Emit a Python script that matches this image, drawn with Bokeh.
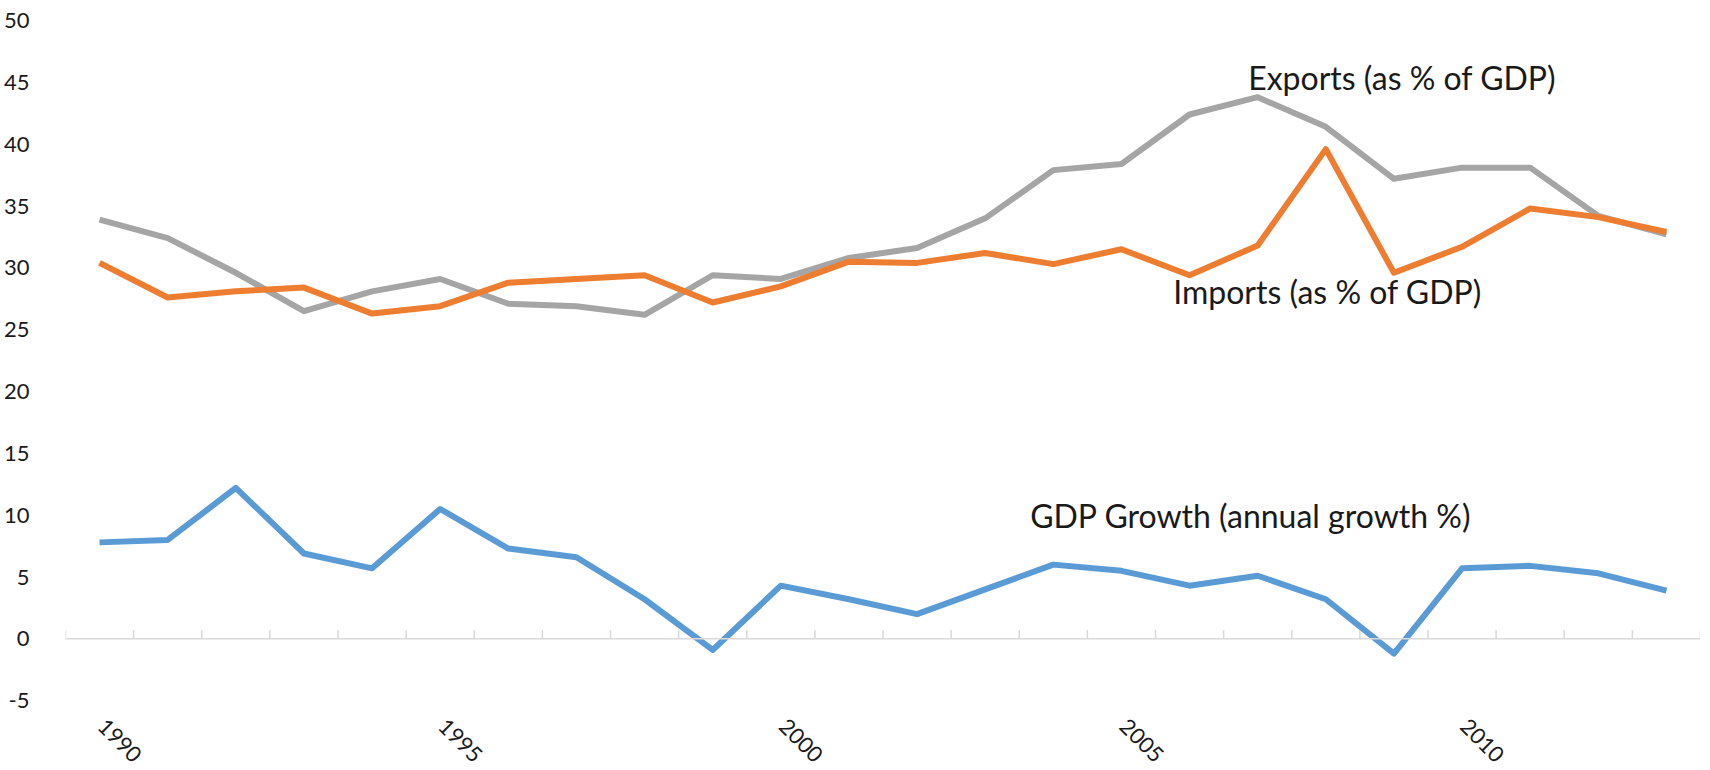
import math
from bokeh.plotting import figure
from bokeh.models import Range1d, FixedTicker, Label, Span
from bokeh.embed import file_html
from bokeh.resources import INLINE

# ---- data ----
years = list(range(1990, 2014))
exports = [33.9, 32.4, 29.6, 26.5, 28.1, 29.1, 27.1, 26.9, 26.2, 29.4, 29.1,
           30.8, 31.6, 34.0, 37.9, 38.4, 42.4, 43.8, 41.4, 37.2, 38.1, 38.1,
           34.2, 32.7]
imports = [30.4, 27.6, 28.1, 28.4, 26.3, 26.9, 28.8, 29.1, 29.4, 27.2, 28.5,
           30.5, 30.4, 31.2, 30.3, 31.5, 29.4, 31.8, 39.6, 29.6, 31.7, 34.8,
           34.1, 32.9]
gdp_growth = [7.8, 8.0, 12.2, 6.9, 5.7, 10.5, 7.3, 6.6, 3.2, -0.9, 4.3,
              3.2, 2.0, 4.0, 6.0, 5.5, 4.3, 5.1, 3.2, -1.2, 5.7, 5.9,
              5.3, 3.9]
x_tick_years = [1990, 1995, 2000, 2005, 2010]
x_tick_labels = ["1990", "1995", "2000", "2005", "2010"]
y_ticks = [-5, 0, 5, 10, 15, 20, 25, 30, 35, 40, 45, 50]
series_names = ["Exports (as % of GDP)", "Imports (as % of GDP)",
                "GDP Growth (annual growth %)"]
series_colors = ["#A5A5A5", "#ED7D31", "#5B9BD5"]

FONT = "Lato"
TEXT_COLOR = "#1a1a1a"
AXIS_GRAY = "#D9D9D9"

# The frame runs down to the bottom of the figure so that the rotated year
# labels (drawn under the -5 line) are not clipped; only -5..50 is labelled.
p = figure(width=1700, height=762, output_backend="svg", toolbar_location=None,
           x_axis_location=None,
           x_range=Range1d(years[0] - 0.5, years[-1] + 0.5),
           y_range=Range1d(-10.0, y_ticks[-1]),
           min_border_left=63, min_border_right=0, min_border_top=20,
           min_border_bottom=0)
p.outline_line_color = None
p.grid.grid_line_color = None

# y axis: labels only
p.yaxis.ticker = FixedTicker(ticks=y_ticks)
p.yaxis.axis_line_color = None
p.yaxis.major_tick_line_color = None
p.yaxis.minor_tick_line_color = None
p.yaxis.major_label_standoff = 30
p.yaxis.major_label_overrides = {-5: "-5"}
p.yaxis.major_label_text_font = FONT
p.yaxis.major_label_text_font_size = "22px"
p.yaxis.major_label_text_color = TEXT_COLOR

# rotated category labels hung under the -5 level
p.text(x=x_tick_years, y=[y_ticks[0]] * len(x_tick_years), text=x_tick_labels,
       angle=-math.pi / 4, x_offset=2, y_offset=22,
       text_font={"value": FONT}, text_font_size="22px",
       text_color=TEXT_COLOR, text_align="left", text_baseline="middle")

# horizontal axis line at zero with category-boundary tick marks
p.add_layout(Span(location=0, dimension="width", line_color=AXIS_GRAY, line_width=1.5))
bounds = [y - 0.5 for y in years] + [years[-1] + 0.5]
p.segment(x0=bounds, y0=[0] * len(bounds), x1=bounds, y1=[0.72] * len(bounds),
          line_color=AXIS_GRAY, line_width=1.5)

# series lines
for vals, col in zip([exports, imports, gdp_growth], series_colors):
    p.line(years, vals, line_color=col, line_width=6, line_join="round")

# series labels
label_pos = [(2006.86, 45.4), (2005.76, 28.1), (2003.66, 10.0)]
for name, (lx, ly) in zip(series_names, label_pos):
    p.add_layout(Label(x=lx, y=ly, text=name, text_font=FONT,
                       text_font_size="32px", text_color="#1a1a1a",
                       text_baseline="middle", text_align="left"))

open("out.html", "w").write(file_html(p, INLINE))
